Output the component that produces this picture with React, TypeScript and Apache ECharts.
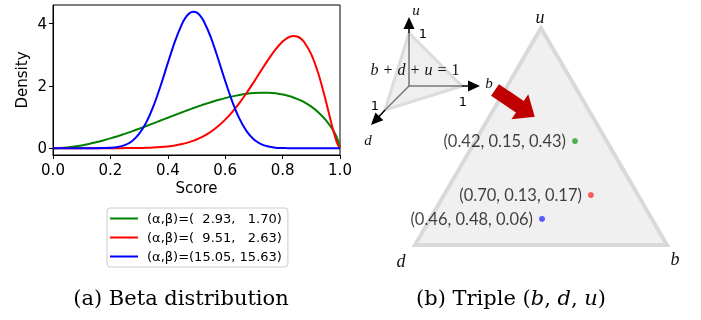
import React, { useEffect, useRef } from "react";
import * as echarts from "echarts";

// ---- Beta densities ----
const SCORES = [0, 0.025, 0.05, 0.075, 0.1, 0.125, 0.15, 0.175, 0.2, 0.225, 0.25, 0.275, 0.3, 0.325, 0.35, 0.375, 0.4, 0.425, 0.45, 0.4625, 0.475, 0.4875, 0.5, 0.5125, 0.525, 0.55, 0.575, 0.6, 0.625, 0.65, 0.675, 0.7, 0.725, 0.75, 0.775, 0.8, 0.8125, 0.825, 0.8375, 0.85, 0.8625, 0.875, 0.9, 0.925, 0.95, 0.975, 0.99, 1];
const GREEN_DENSITY = [0, 0.007, 0.024, 0.052, 0.089, 0.135, 0.188, 0.248, 0.314, 0.385, 0.461, 0.541, 0.625, 0.711, 0.799, 0.888, 0.977, 1.067, 1.154, 1.197, 1.24, 1.282, 1.323, 1.363, 1.403, 1.477, 1.546, 1.609, 1.664, 1.711, 1.746, 1.771, 1.784, 1.781, 1.763, 1.726, 1.7, 1.668, 1.63, 1.586, 1.535, 1.477, 1.334, 1.149, 0.911, 0.59, 0.32, 0];
const RED_DENSITY = [0, 0, 0, 0, 0, 0, 0, 0, 0, 0.001, 0.002, 0.003, 0.006, 0.012, 0.021, 0.035, 0.056, 0.088, 0.133, 0.162, 0.196, 0.235, 0.28, 0.331, 0.389, 0.529, 0.704, 0.917, 1.167, 1.457, 1.78, 2.129, 2.491, 2.845, 3.167, 3.425, 3.517, 3.579, 3.605, 3.589, 3.528, 3.412, 3.015, 2.381, 1.543, 0.622, 0.159, 0];
const BLUE_DENSITY = [0, 0, 0, 0, 0, 0, 0.0005, 0.003, 0.011, 0.036, 0.097, 0.225, 0.458, 0.828, 1.35, 2.004, 2.731, 3.434, 4.001, 4.201, 4.331, 4.386, 4.361, 4.26, 4.086, 3.562, 2.882, 2.159, 1.491, 0.942, 0.542, 0.28, 0.128, 0.051, 0.017, 0.005, 0.002, 0.001, 0.0004, 0, 0, 0, 0, 0, 0, 0, 0, 0];
const SERIES_NAMES = ["(α,β)=(  2.93,   1.70)", "(α,β)=(  9.51,   2.63)", "(α,β)=(15.05, 15.63)"];
const SERIES_COLORS = ["#008000", "#ff0000", "#0000ff"];
const Y_TICKS = [0, 2, 4];

// ---- Opinion triples (b, d, u) and their places in the triangle ----
const TRIPLE_LABELS = ["(0.42, 0.15, 0.43)", "(0.70, 0.13, 0.17)", "(0.46, 0.48, 0.06)"];
const TRIPLE_X = [0.635, 0.698, 0.504];
const TRIPLE_Y = [0.479, 0.23, 0.12];
const TRIPLE_COLORS = ["#2ca02c", "#ff3333", "#3333ff"];
const TRIANGLE = [[0, 0], [1, 0], [0.5, 1]];

const SANS = "DejaVu Sans";
const SERIF = "Liberation Serif";
const CAPTION_FONT = "DejaVu Serif";

function txt(text: string, x: number, y: number, size: number, opts: any = {}) {
  return {
    type: "text",
    x,
    y,
    z: 20,
    scaleX: opts.scaleX || 1,
    style: {
      text,
      fontSize: size,
      fontFamily: opts.family || SERIF,
      fontStyle: opts.italic ? "italic" : "normal",
      fill: opts.color || "#111",
      align: opts.align || "center",
      verticalAlign: "middle",
      textAlign: opts.align || "center",
      textVerticalAlign: "middle",
      rich: opts.rich,
    },
  };
}

export default function App() {
  const ref = useRef<HTMLDivElement>(null);
  useEffect(() => {
    if (!ref.current) return;
    const chart = echarts.init(ref.current, null, { renderer: "svg" });
    const dens = [GREEN_DENSITY, RED_DENSITY, BLUE_DENSITY];

    const head = (tip: number[], dir: number[], len: number, half: number) => {
      const bx = tip[0] - dir[0] * len;
      const by = tip[1] - dir[1] * len;
      const px = -dir[1];
      const py = dir[0];
      return {
        type: "polygon",
        z: 15,
        shape: { points: [tip, [bx + px * half, by + py * half], [bx - px * half, by - py * half]] },
        style: { fill: "#000" },
      };
    };
    const seg = (a: number[], b: number[], color: string, w: number) => ({
      type: "line",
      z: 14,
      shape: { x1: a[0], y1: a[1], x2: b[0], y2: b[1] },
      style: { stroke: color, lineWidth: w },
    });

    const O = [409, 86];
    const vU = [409, 33];
    const vB = [462, 86];
    const vD = [385, 110];
    const dl = Math.hypot(-38, 39);
    const dDir = [-38 / dl, 39 / dl];

    // red block arrow
    const B0 = [495, 90];
    const al = Math.hypot(40, 27);
    const ad = [40 / al, 27 / al];
    const ap = [-ad[1], ad[0]];
    const P = (t: number, s: number) => [B0[0] + ad[0] * t + ap[0] * s, B0[1] + ad[1] * t + ap[1] * s];

    const mathRich = {
      i: { fontStyle: "italic", fontSize: 16, fontFamily: SERIF, fill: "#111" },
      o: { fontSize: 16, fontFamily: SERIF, fill: "#111", padding: [0, 1] },
    };

    chart.setOption({
      animation: false,
      grid: [
        { left: 53, top: 5, width: 287, height: 150, show: true, borderColor: "#000", borderWidth: 1, backgroundColor: "transparent" },
        { left: 415, top: 28, width: 252, height: 217, show: false },
      ],
      xAxis: [
        {
          type: "value",
          gridIndex: 0,
          min: 0,
          max: 1,
          interval: 0.2,
          name: "Score",
          nameLocation: "middle",
          nameGap: 25,
          nameTextStyle: { fontSize: 15, fontFamily: SANS, color: "#000" },
          axisLine: { show: true, onZero: false, lineStyle: { color: "#000", width: 1 } },
          axisTick: { show: true, length: 4, lineStyle: { color: "#000" } },
          axisLabel: { fontSize: 15, fontFamily: SANS, color: "#000", margin: 7, formatter: (v: number) => v.toFixed(1), showMinLabel: true, showMaxLabel: true },
          splitLine: { show: false },
        },
        { type: "value", gridIndex: 1, min: 0, max: 1, show: false },
      ],
      yAxis: [
        {
          type: "value",
          gridIndex: 0,
          min: -0.219,
          max: 4.6,
          name: "Density",
          nameLocation: "middle",
          nameGap: 24,
          nameTextStyle: { fontSize: 15, fontFamily: SANS, color: "#000" },
          axisLine: { show: true, onZero: false, lineStyle: { color: "#000", width: 1 } },
          axisTick: { show: true, length: 4, lineStyle: { color: "#000" }, customValues: Y_TICKS },
          axisLabel: { fontSize: 15, fontFamily: SANS, color: "#000", margin: 6, customValues: Y_TICKS },
          splitLine: { show: false },
        },
        { type: "value", gridIndex: 1, min: 0, max: 1, show: false },
      ],
      legend: {
        left: 107,
        top: 208,
        orient: "vertical",
        icon: "rect",
        itemWidth: 28,
        itemHeight: 2,
        itemGap: 6,
        padding: [4, 6, 4, 3],
        borderColor: "#cccccc",
        borderWidth: 1,
        borderRadius: 3,
        backgroundColor: "rgba(255,255,255,0.8)",
        textStyle: { fontSize: 13, fontFamily: SANS, color: "#000", padding: [0, 0, 0, 4] },
        data: SERIES_NAMES,
      },
      series: [
        ...SERIES_NAMES.map((name, i) => ({
          name,
          type: "line",
          xAxisIndex: 0,
          yAxisIndex: 0,
          data: SCORES.map((x, k) => [x, dens[i][k]]),
          smooth: 0.3,
          showSymbol: false,
          symbol: "none",
          color: SERIES_COLORS[i],
          lineStyle: { color: SERIES_COLORS[i], width: 2 },
          z: 3 + i,
        })),
        {
          type: "custom",
          name: "triangle",
          xAxisIndex: 1,
          yAxisIndex: 1,
          data: [[0, 0]],
          silent: true,
          z: 1,
          renderItem: (_p: any, api: any) => ({
            type: "polygon",
            shape: { points: TRIANGLE.map((p) => api.coord(p)) },
            style: { fill: "#f0f0f0", stroke: "#d9d9d9", lineWidth: 4, lineJoin: "miter" },
          }),
        },
        {
          type: "scatter",
          name: "triples",
          xAxisIndex: 1,
          yAxisIndex: 1,
          symbolSize: 6,
          z: 5,
          data: TRIPLE_LABELS.map((label, i) => ({
            name: label,
            value: [TRIPLE_X[i], TRIPLE_Y[i]],
            itemStyle: { color: TRIPLE_COLORS[i] },
          })),
          label: {
            show: true,
            position: "left",
            distance: 6,
            formatter: "{b}",
            fontSize: 16.5,
            fontFamily: "Lato",
            color: "#111",
          },
        },
      ],
      graphic: [
        // small 3-D sketch
        {
          type: "polygon",
          z: 12,
          shape: { points: [vU, vB, vD] },
          style: { fill: "rgba(215,215,215,0.4)", stroke: "#dcdcdc", lineWidth: 3 },
        },
        seg(O, vU, "#777", 1.5),
        seg(O, vB, "#777", 1.5),
        seg(O, vD, "#777", 1.5),
        seg(vU, [409, 28], "#000", 1.5),
        head([409, 17], [0, -1], 12, 5.5),
        seg(vB, [468, 86], "#000", 1.5),
        head([480, 86], [1, 0], 12, 5.5),
        seg(vD, [371 - dDir[0] * 11, 125 - dDir[1] * 11], "#000", 1.5),
        head([371, 125], dDir, 12, 5.5),
        txt("u", 416, 10, 15, { italic: true }),
        txt("1", 423, 33, 13, { family: SANS, color: "#000" }),
        txt("1", 463, 101, 13, { family: SANS, color: "#000" }),
        txt("1", 375, 105, 13, { family: SANS, color: "#000" }),
        txt("b", 489, 83, 15, { italic: true }),
        txt("d", 368, 140, 15, { italic: true }),
        txt("{i|b} {o|+} {i|d} {o|+} {i|u} {o|=} 1", 415, 69, 16, { rich: mathRich }),
        // red block arrow
        {
          type: "polygon",
          z: 16,
          shape: { points: [P(0, -7), P(30, -7), P(30, -15), P(48, 0), P(30, 15), P(30, 7), P(0, 7)] },
          style: { fill: "#c00000" },
        },
        // triangle corner labels
        txt("u", 540, 17, 18, { italic: true }),
        txt("d", 401, 261, 18, { italic: true }),
        txt("b", 675, 259, 18, { italic: true }),
        // captions
        txt("(a) Beta distribution", 181, 298, 20, { color: "#000", family: CAPTION_FONT, scaleX: 1.05 }),
        txt("(b) Triple ({i|b}, {i|d}, {i|u})", 511, 298, 20, {
          color: "#000",
          family: CAPTION_FONT,
          scaleX: 1.05,
          rich: { i: { fontStyle: "italic", fontSize: 20, fontFamily: CAPTION_FONT, fill: "#000" } },
        }),
      ],
    });
    return () => chart.dispose();
  }, []);
  return <div ref={ref} style={{ position: "fixed", left: 0, top: 0, width: 701, height: 320 }} />;
}
